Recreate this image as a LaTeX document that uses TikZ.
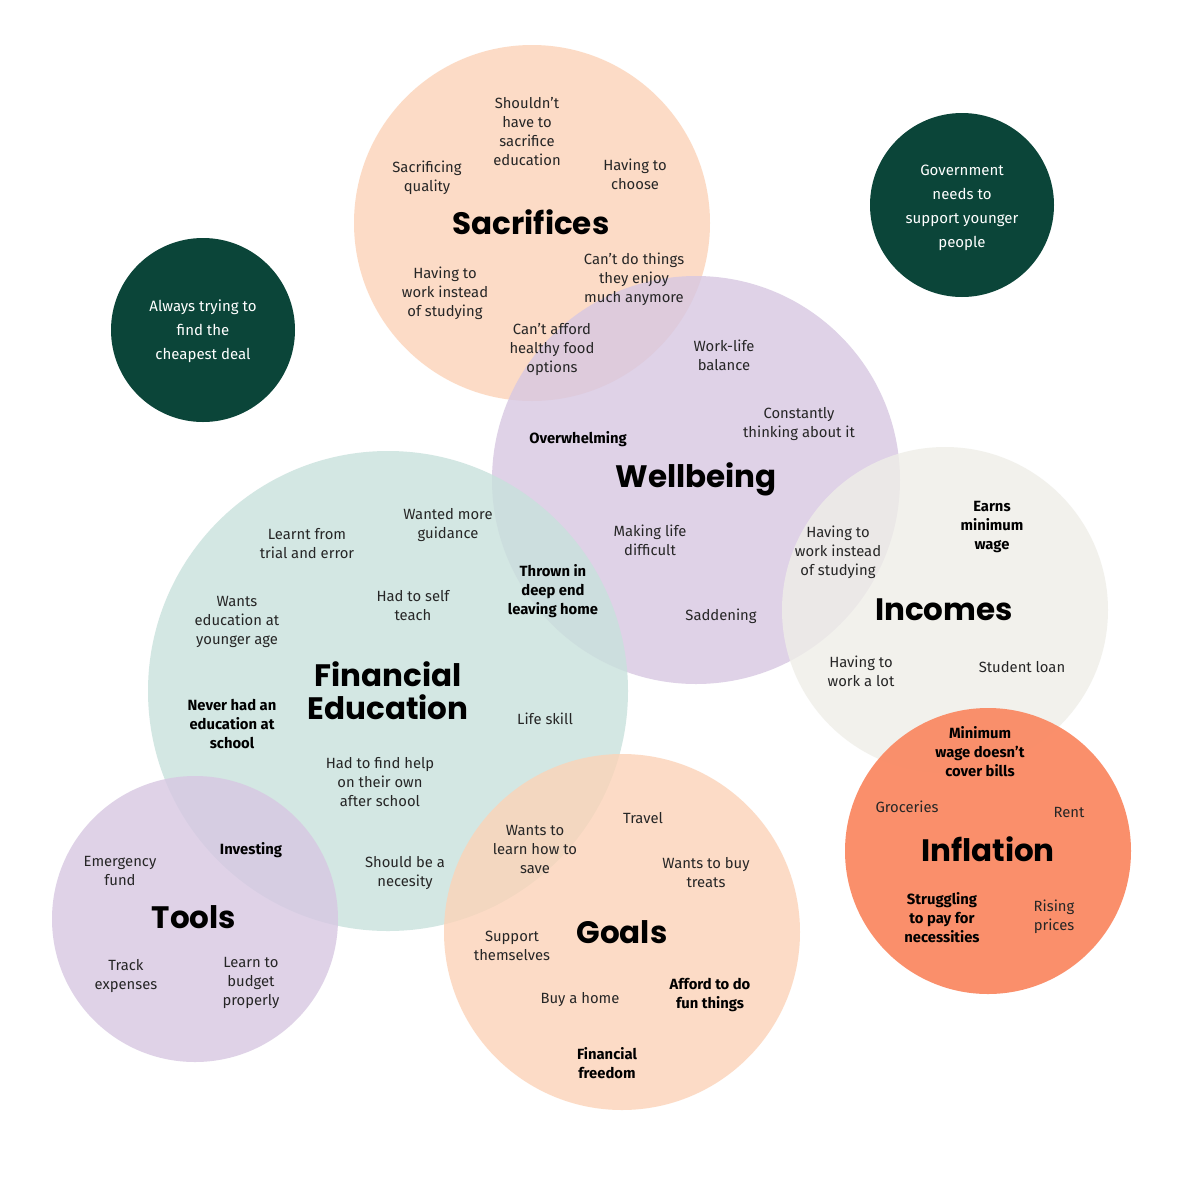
\documentclass[tikz,border=0pt]{standalone}
\usepackage{fontspec}
\setmainfont{Fira Sans}
\newfontfamily\headfont{Poppins}
\begin{document}
\begin{tikzpicture}[x=1pt,y=-1pt,
  every node/.append style={yshift=-1.5pt},
  bub/.style={fill opacity=0.8, draw=none},
  txt/.style={align=center, inner sep=0pt, text=black!85, font=\fontsize{14.8}{19}\selectfont},
  btxt/.style={align=center, inner sep=0pt, text=black, font=\fontsize{14.8}{19}\selectfont\bfseries},
  head/.style={align=center, inner sep=0pt, text=black, font=\headfont\fontsize{31}{33}\selectfont\bfseries},
  wtxt/.style={align=center, inner sep=0pt, text=white, font=\fontsize{15}{24}\selectfont}
]
\definecolor{peach}{RGB}{252,211,184}
\definecolor{lav}{RGB}{215,199,226}
\definecolor{teal}{RGB}{200,225,220}
\definecolor{inc}{RGB}{239,238,232}
\definecolor{infl}{RGB}{250,140,103}
\definecolor{dgreen}{RGB}{11,69,57}
\useasboundingbox (0,0) rectangle (1200,1200);
\fill[white] (0,0) rectangle (1200,1200);

% circles
\fill[bub, peach] (532,223) circle (178);
\fill[bub, lav] (696,480) circle (204);
\fill[bub, teal] (388,691) circle (240);
\fill[bub, inc] (945,610) circle (163);
\fill[bub, peach] (622,932) circle (178);
\fill[bub, lav] (195,919) circle (143);
\fill[infl, fill opacity=0.97] (988,851) circle (143);
\fill[dgreen] (203,330) circle (92);
\fill[dgreen] (962,205) circle (92);

% Sacrifices
\node[head] (sac) at (531,221) {Sacrifices};
\node[txt] (s1) at (527,130.5) {Shouldn’t\\have to\\sacrifice\\education};
\node[txt] (s2) at (427,176.5) {Sacrificing\\quality};
\node[txt] (s3) at (635,172.5) {Having to\\choose};
\node[txt] (s4) at (445,292) {Having to\\work instead\\of studying};
\node[txt] (s5) at (634,278) {Can’t do things\\they enjoy\\much anymore};
\node[txt] (s6) at (552,348) {Can’t afford\\healthy food\\options};

% Wellbeing
\node[head] (wel) at (696,478) {Wellbeing};
\node[txt] (w1) at (724,353.5) {Work-life\\balance};
\node[txt] (w2) at (799,422.5) {Constantly\\thinking about it};
\node[btxt] (w3) at (578,438) {Overwhelming};
\node[txt] (w4) at (650,538.5) {Making life\\difficult};
\node[btxt] (w5) at (553,590) {Thrown in\\deep end\\leaving home};
\node[txt] (w6) at (721,615) {Saddening};
\node[txt] (w7) at (838,551) {Having to\\work instead\\of studying};

% Financial Education
\node[head] (fin) at (388,689.5) {Financial\\Education};
\node[txt] (f1) at (307,542.5) {Learnt from\\trial and error};
\node[txt] (f2) at (448,523.5) {Wanted more\\guidance};
\node[txt] (f3) at (237,620) {Wants\\education at\\younger age};
\node[txt] (f4) at (413,604.5) {Had to self\\teach};
\node[btxt] (f5) at (232,722) {Never had an\\education at\\school};
\node[txt] (f6) at (545,717) {Life skill};
\node[txt] (f7) at (380,781) {Had to find help\\on their own\\after school};
\node[txt] (f8) at (405,871.5) {Should be a\\necesity};
\node[btxt] (f9) at (251,849) {Investing};

% Incomes
\node[head] (inco) at (944,608) {Incomes};
\node[btxt] (i1) at (992,526) {Earns\\minimum\\wage};
\node[txt] (i2) at (861,669.5) {Having to\\work a lot};
\node[txt] (i3) at (1022,666) {Student loan};

% Inflation
\node[head] (infn) at (988,848) {Inflation};
\node[btxt] (n1) at (980,750) {Minimum\\wage doesn’t\\cover bills};
\node[txt] (n2) at (907,805) {Groceries};
\node[txt] (n3) at (1069,811) {Rent};
\node[btxt] (n4) at (942,916) {Struggling\\to pay for\\necessities};
\node[txt] (n5) at (1054,915.5) {Rising\\prices};

% Goals
\node[head] (goal) at (622,931) {Goals};
\node[txt] (g1) at (535,848) {Wants to\\learn how to\\save};
\node[txt] (g2) at (643,817) {Travel};
\node[txt] (g3) at (706,871.5) {Wants to buy\\treats};
\node[txt] (g4) at (512,944.5) {Support\\themselves};
\node[txt] (g5) at (580,998) {Buy a home};
\node[btxt] (g6) at (710,993.5) {Afford to do\\fun things};
\node[btxt] (g7) at (607,1061.5) {Financial\\freedom};

% Tools
\node[head] (tool) at (194,916) {Tools};
\node[txt] (t1) at (120,869.5) {Emergency\\fund};
\node[txt] (t2) at (126,974.5) {Track\\expenses};
\node[txt] (t3) at (251,981) {Learn to\\budget\\properly};

% dark circles
\node[wtxt] (d1) at (203,330) {Always trying to\\find the\\cheapest deal};
\node[wtxt] (d2) at (962,206) {Government\\needs to\\support younger\\people};
\end{tikzpicture}
\end{document}
